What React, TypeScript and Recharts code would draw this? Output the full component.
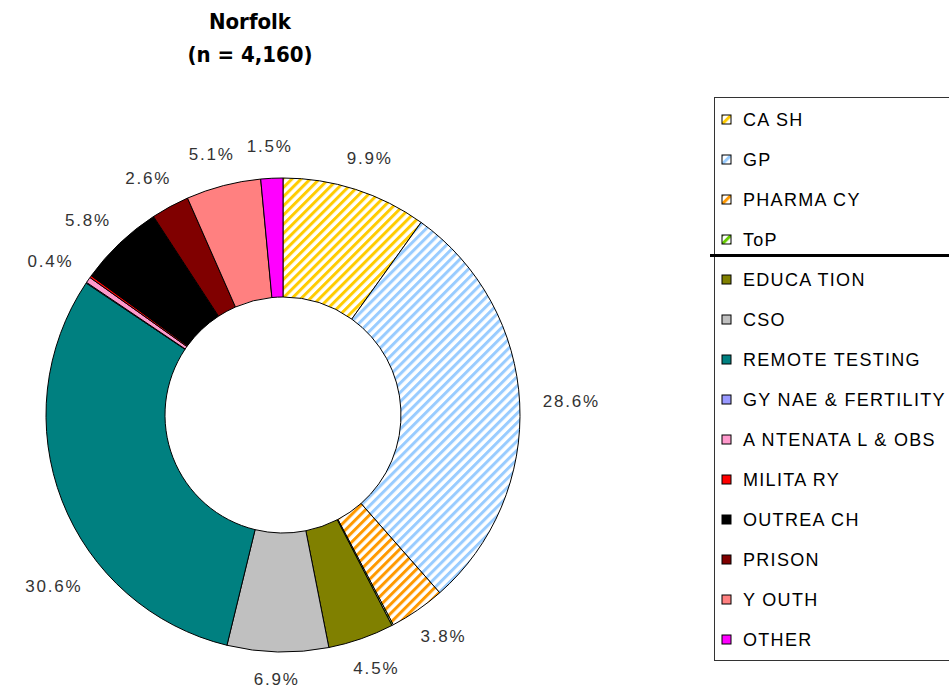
import React from "react";
import { PieChart, Pie, Cell, Legend } from "recharts";

const categories = [
  "CASH",
  "GP",
  "PHARMACY",
  "ToP",
  "EDUCATION",
  "CSO",
  "REMOTE TESTING",
  "GYNAE & FERTILITY",
  "ANTENATAL & OBS",
  "MILITARY",
  "OUTREACH",
  "PRISON",
  "YOUTH",
  "OTHER",
];
const legendLabels = [
  "CA SH",
  "GP",
  "PHARMA CY",
  "ToP",
  "EDUCA TION",
  "CSO",
  "REMOTE TESTING",
  "GY NAE & FERTILITY",
  "A NTENATA L & OBS",
  "MILITA RY",
  "OUTREA CH",
  "PRISON",
  "Y OUTH",
  "OTHER",
];
const percentages = [9.9, 28.6, 3.8, 0.1, 4.5, 6.9, 30.6, 0.05, 0.4, 0.15, 5.8, 2.6, 5.1, 1.5];
const fills = [
  "url(#stripeCash)",
  "url(#stripeGP)",
  "url(#stripePharm)",
  "url(#stripeToP)",
  "#808000",
  "#C0C0C0",
  "#008080",
  "#9999FF",
  "#FF99CC",
  "#FF0000",
  "#000000",
  "#800000",
  "#FF8080",
  "#FF00FF",
];
const stripeColors = ["#FFCC00", "#99CCFF", "#FF9900", "#66CC00"];
const stripeIds = ["stripeCash", "stripeGP", "stripePharm", "stripeToP"];

const data = categories.map((c, i) => ({ name: c, value: percentages[i] }));

const RAD = Math.PI / 180;
const LEFT_LIMIT = 25;
const BOTTOM_LIMIT = 688;

const renderLabel = (props: any) => {
  const { cx, cy, midAngle, outerRadius, value } = props;
  if (value < 0.3) return null;
  const text = value.toFixed(1) + "%";
  const ux = Math.cos(-midAngle * RAD);
  const uy = Math.sin(-midAngle * RAD);
  const r = outerRadius + 23;
  const w = text.length * 11.5;
  const h = 18;
  let x = cx + r * ux + (ux * w) / 2;
  let y = cy + r * uy + (uy * h) / 2;
  // keep the label inside the drawing: slide it along its circle
  if (x - w / 2 < LEFT_LIMIT) {
    const d = Math.hypot(x - cx, y - cy);
    const dx = LEFT_LIMIT + w / 2 - cx;
    const dy = Math.sqrt(Math.max(0, d * d - dx * dx));
    x = cx + dx;
    y = cy + (uy >= 0 ? dy : -dy);
  }
  if (y + h / 2 > BOTTOM_LIMIT) y = BOTTOM_LIMIT - h / 2;
  return (
    <text
      x={x}
      y={y}
      textAnchor="middle"
      dominantBaseline="central"
      fill="#333333"
      fontSize={17}
      letterSpacing={1.8}
      fontFamily="'Liberation Sans', Arial, sans-serif"
    >
      {text}
    </text>
  );
};

const renderLegend = () => (
  <div
    style={{
      position: "relative",
      border: "1.5px solid #333",
      background: "#fff",
      width: 250,
      paddingTop: 2,
      boxSizing: "border-box",
    }}
  >
    {legendLabels.map((l, i) => (
      <div
        key={l}
        style={{
          height: 40,
          display: "flex",
          alignItems: "center",
          fontFamily: "'Liberation Sans', Arial, sans-serif",
          fontSize: 18,
          color: "#000",
          whiteSpace: "nowrap",
          letterSpacing: 1.3,
        }}
      >
        <svg width={12} height={12} style={{ marginLeft: 6, marginRight: 10 }}>
          <rect x={1} y={1} width={9} height={9} fill={fills[i]} stroke="#000" strokeWidth={1} />
        </svg>
        <span>{l}</span>
      </div>
    ))}
    <div
      style={{
        position: "absolute",
        left: -5,
        top: 156,
        width: 260,
        height: 3,
        background: "#000",
      }}
    />
  </div>
);

export default function App() {
  return (
    <div
      style={{
        position: "fixed",
        left: 0,
        top: 0,
        width: 949,
        height: 691,
        overflow: "hidden",
        background: "#fff",
      }}
    >
      <svg width={0} height={0} style={{ position: "absolute" }}>
        <defs>
          {stripeIds.map((id, i) => (
            <pattern
              key={id}
              id={id}
              patternUnits="userSpaceOnUse"
              width={6.5}
              height={6.5}
              patternTransform="rotate(45)"
            >
              <rect x={0} y={0} width={6.5} height={6.5} fill="#ffffff" />
              <rect x={0} y={0} width={3} height={6.5} fill={stripeColors[i]} />
            </pattern>
          ))}
        </defs>
      </svg>
      <div
        style={{
          position: "absolute",
          left: 0,
          top: 5,
          width: 500,
          textAlign: "center",
          fontFamily: "'DejaVu Sans Condensed', 'Liberation Sans Narrow', 'Liberation Sans', sans-serif",
          fontWeight: "bold",
          fontSize: 22,
          lineHeight: "33px",
          color: "#000",
        }}
      >
        <div>Norfolk</div>
        <div>(n = 4,160)</div>
      </div>
      <div style={{ position: "absolute", left: 0, top: 0 }}>
        <PieChart width={949} height={691}>
          <Pie
            data={data}
            dataKey="value"
            nameKey="name"
            cx={278}
            cy={410}
            outerRadius={237}
            innerRadius={118}
            startAngle={90}
            endAngle={-270}
            stroke="#000"
            strokeWidth={1}
            label={renderLabel}
            labelLine={false}
            isAnimationActive={false}
          >
            {data.map((d, i) => (
              <Cell key={d.name} fill={fills[i]} />
            ))}
          </Pie>
          <Legend
            layout="vertical"
            align="right"
            verticalAlign="top"
            content={renderLegend}
            wrapperStyle={{ position: "absolute", left: 714, top: 97, width: 250 }}
          />
        </PieChart>
      </div>
    </div>
  );
}
